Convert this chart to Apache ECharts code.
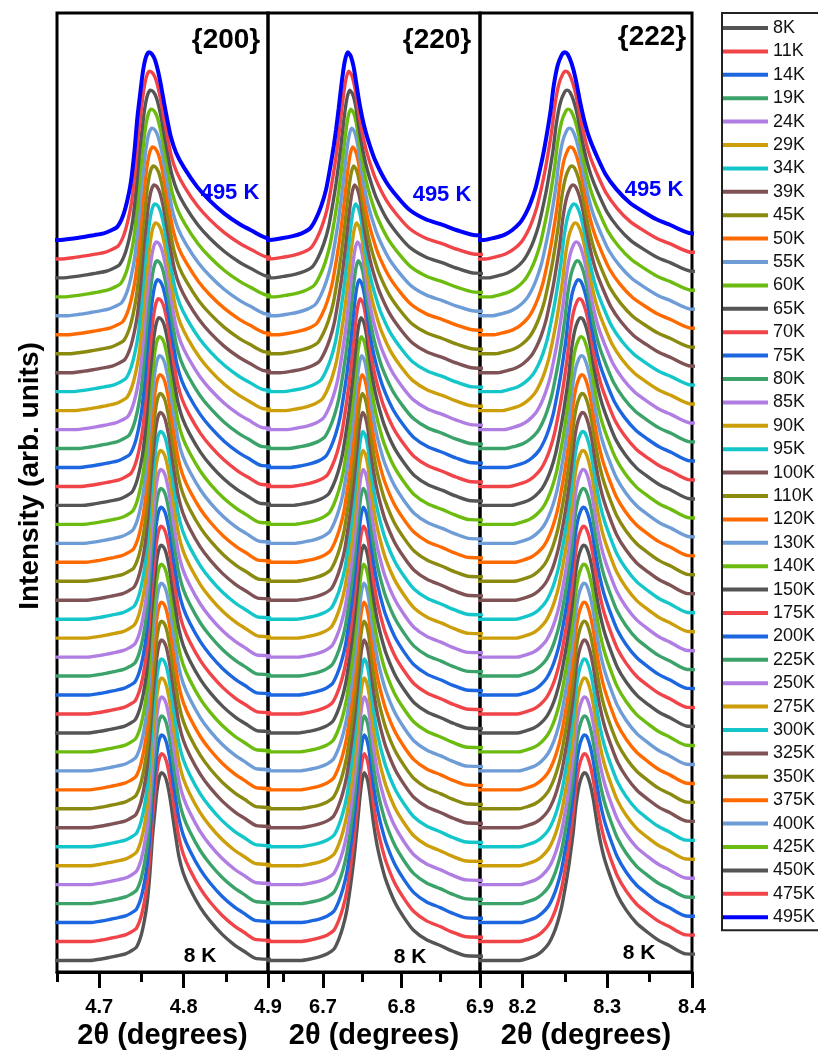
<!DOCTYPE html>
<html>
<head>
<meta charset="utf-8">
<script src="https://cdn.jsdelivr.net/npm/echarts@6/dist/echarts.min.js"></script>
<style>
html, body { margin: 0; padding: 0; background: #fff; }
#main { width: 818px; height: 1050px; }
</style>
</head>
<body>
<div id="main"></div>
<script>
// temperatures, bottom curve first
var temps = [8, 11, 14, 19, 24, 29, 34, 39, 45, 50, 55, 60, 65, 70, 75, 80, 85, 90, 95, 100,
  110, 120, 130, 140, 150, 175, 200, 225, 250, 275, 300, 325, 350, 375, 400, 425, 450, 475, 495];

// peak centres (2theta, deg) read per curve
var peak200 = [4.7740, 4.7740, 4.7740, 4.7740, 4.7740, 4.7739, 4.7739, 4.7738, 4.7738, 4.7737,
  4.7736, 4.7735, 4.7734, 4.7733, 4.7732, 4.7731, 4.7730, 4.7728, 4.7727, 4.7725,
  4.7723, 4.7720, 4.7717, 4.7714, 4.7710, 4.7703, 4.7694, 4.7686, 4.7678, 4.7670,
  4.7661, 4.7652, 4.7643, 4.7635, 4.7626, 4.7617, 4.7608, 4.7598, 4.7590];
var peak220 = [6.7525, 6.7525, 6.7525, 6.7525, 6.7525, 6.7524, 6.7524, 6.7523, 6.7522, 6.7521,
  6.7520, 6.7518, 6.7517, 6.7515, 6.7514, 6.7512, 6.7510, 6.7508, 6.7507, 6.7505,
  6.7501, 6.7497, 6.7492, 6.7488, 6.7484, 6.7473, 6.7461, 6.7449, 6.7438, 6.7426,
  6.7414, 6.7402, 6.7390, 6.7378, 6.7365, 6.7353, 6.7340, 6.7327, 6.7315];
var peak222 = [8.2733, 8.2733, 8.2733, 8.2733, 8.2733, 8.2732, 8.2731, 8.2731, 8.2729, 8.2728,
  8.2727, 8.2725, 8.2724, 8.2722, 8.2720, 8.2718, 8.2717, 8.2714, 8.2712, 8.2710,
  8.2706, 8.2701, 8.2697, 8.2692, 8.2687, 8.2674, 8.2661, 8.2648, 8.2635, 8.2623,
  8.2608, 8.2596, 8.2581, 8.2569, 8.2554, 8.2540, 8.2526, 8.2511, 8.2498];

// relative peak width per curve (495K = 1)
var widths = [0.80, 0.80, 0.80, 0.80, 0.80, 0.80, 0.80, 0.81, 0.81, 0.81, 0.81, 0.81, 0.82,
  0.82, 0.82, 0.82, 0.82, 0.83, 0.83, 0.83, 0.84, 0.84, 0.85, 0.85, 0.86, 0.87, 0.88,
  0.89, 0.90, 0.91, 0.92, 0.93, 0.94, 0.95, 0.96, 0.97, 0.98, 0.99, 1.00];

// peak profiles: offset from centre (deg) and intensity
var prof200Dx = [-0.30, -0.1071, -0.0893, -0.0774, -0.0655, -0.0536, -0.0452, -0.0376, -0.0310,
  -0.0257, -0.0214, -0.0173, -0.0138, -0.0107, -0.0071, -0.0036, 0, 0.0036, 0.0071, 0.0107,
  0.0139, 0.0179, 0.0214, 0.0258, 0.0321, 0.0417, 0.0571, 0.0714, 0.0893, 0.1071, 0.1214,
  0.1405, 0.30];
var prof200Y = [0, 0, 0.08, 0.16, 0.25, 0.35, 0.5, 0.69, 1.25,
  2.08, 3.07, 4.65, 6.44, 7.62, 8.91, 9.65, 9.9, 9.8, 9.5, 8.91,
  8.22, 7.23, 6.4, 5.45, 4.6, 3.8, 2.8, 2.1, 1.39, 0.84, 0.5,
  0.1, 0];
var prof220Dx = [-0.30, -0.1019, -0.0828, -0.0701, -0.0586, -0.0484, -0.0408, -0.0338, -0.0275,
  -0.0217, -0.0178, -0.0148, -0.0115, -0.0076, -0.0038, 0, 0.0038, 0.0076, 0.0115, 0.0149,
  0.0191, 0.0229, 0.0276, 0.0344, 0.0484, 0.0637, 0.0790, 0.0994, 0.1210, 0.1401, 0.1631, 0.30];
var prof220Y = [0, 0, 0.1, 0.2, 0.35, 0.59, 1.09, 1.78, 2.67,
  3.96, 4.95, 5.84, 6.93, 8.32, 9.41, 9.9, 9.7, 9.11, 8.12, 7.23,
  6.34, 5.7, 5.05, 4.25, 3.1, 2.25, 1.58, 1.09, 0.79, 0.5, 0.25, 0.2];
var prof222Dx = [-0.30, -0.0953, -0.0824, -0.0718, -0.0624, -0.0529, -0.0459, -0.0400, -0.0341,
  -0.0294, -0.0247, -0.0200, -0.0165, -0.0129, -0.0082, -0.0035, 0, 0.0035, 0.0082, 0.0129,
  0.0185, 0.0235, 0.0294, 0.0376, 0.0482, 0.0612, 0.0765, 0.0929, 0.1082, 0.1247, 0.1494, 0.30];
var prof222Y = [0, 0, 0.12, 0.26, 0.5, 0.89, 1.39, 1.98, 2.77,
  3.66, 4.65, 5.84, 6.83, 8.12, 9.21, 9.75, 9.9, 9.8, 9.31, 8.51,
  7.23, 6.24, 5.35, 4.46, 3.47, 2.67, 1.98, 1.49, 1.09, 0.79, 0.35, 0.3];

var xMins = [4.65, 6.63, 8.15];
var xMaxs = [4.9, 6.9, 8.4];
var majorTicks = [[4.7, 4.8, 4.9], [6.7, 6.8, 6.9], [8.2, 8.3, 8.4]];
var minorTicks = [[4.65, 4.75, 4.85], [6.65, 6.75, 6.85], [8.15, 8.25, 8.35]];
var panelNames = ['{200}', '{220}', '{222}'];

var palette = ['#555555', '#f04448', '#1c66e0', '#3ba36a', '#b07de3', '#cc9e0a',
  '#14c6c9', '#7f5355', '#8a8a10', '#ff6a00', '#6e9cd6', '#6cbc10'];

var FONT = '"Liberation Sans", Arial, sans-serif';
var peaks = [peak200, peak220, peak222];
var profDx = [prof200Dx, prof220Dx, prof222Dx];
var profY = [prof200Y, prof220Y, prof222Y];
var gridLeft = [57, 268, 480];
var gridWidth = [211, 212, 212];

var chart = echarts.init(document.getElementById('main'));

var grids = [], xAxes = [], yAxes = [], series = [];
for (var p = 0; p < 3; p++) {
  grids.push({ left: gridLeft[p], width: gridWidth[p], top: 13, height: 959,
    outerBoundsMode: 'none', containLabel: false,
    show: true, borderColor: '#000', borderWidth: 3 });
  xAxes.push({
    gridIndex: p, type: 'value', min: xMins[p], max: xMaxs[p], position: 'bottom',
    axisLine: { onZero: false, lineStyle: { color: '#000', width: 3 } },
    axisTick: { customValues: majorTicks[p], length: 16, lineStyle: { color: '#000', width: 3 } },
    axisLabel: { customValues: majorTicks[p], margin: 25, fontSize: 20, fontWeight: 'bold',
      color: '#000', fontFamily: FONT, formatter: function (v) { return v.toFixed(1); } },
    splitLine: { show: false },
    name: '2θ (degrees)', nameLocation: 'middle', nameGap: 41,
    nameTextStyle: { fontSize: 29, fontWeight: 'bold', color: '#000', fontFamily: FONT }
  });
  yAxes.push({ gridIndex: p, type: 'value', min: -0.607, max: 49.97, show: false });
}
for (var p = 0; p < 3; p++) {
  xAxes.push({
    gridIndex: p, type: 'value', min: xMins[p], max: xMaxs[p], position: 'bottom',
    axisLine: { show: false, onZero: false },
    axisTick: { customValues: minorTicks[p], length: 10, lineStyle: { color: '#000', width: 3 } },
    axisLabel: { show: false }, splitLine: { show: false }
  });
}

for (var p = 0; p < 3; p++) {
  for (var i = 0; i < temps.length; i++) {
    var pts = [];
    for (var k = 0; k < profDx[p].length; k++) {
      pts.push([peaks[p][i] + profDx[p][k] * widths[i], i + profY[p][k]]);
    }
    var last = i === temps.length - 1;
    var col = last ? '#0000ff' : palette[i % palette.length];
    series.push({
      type: 'line', name: temps[i] + 'K', xAxisIndex: p, yAxisIndex: p,
      data: pts, showSymbol: false, symbol: 'none', smooth: 0.25,
      color: col, lineStyle: { color: col, width: last ? 4 : 3.4 },
      emphasis: { disabled: true }
    });
  }
}

var graphics = [];
var tagX = [226, 437, 652], tagY = [40, 40, 37];
var hotX = [230, 442, 654], hotY = [193, 195, 190];
var coldX = [200, 410, 639], coldY = [956, 957, 953];
for (var p = 0; p < 3; p++) {
  graphics.push({ type: 'text', x: tagX[p], y: tagY[p], z: 100,
    style: { text: panelNames[p], fill: '#000', font: 'bold 28px ' + FONT, textAlign: 'center', textVerticalAlign: 'middle' } });
  graphics.push({ type: 'text', x: hotX[p], y: hotY[p], z: 100,
    style: { text: '495 K', fill: '#0000ff', font: 'bold 22px ' + FONT, textAlign: 'center', textVerticalAlign: 'middle' } });
  graphics.push({ type: 'text', x: coldX[p], y: coldY[p], z: 100,
    style: { text: '8 K', fill: '#000', font: 'bold 21px ' + FONT, textAlign: 'center', textVerticalAlign: 'middle' } });
}
graphics.push({ type: 'text', x: 30, y: 476, rotation: Math.PI / 2, z: 100,
  style: { text: 'Intensity (arb. units)', fill: '#000', font: 'bold 28px ' + FONT, textAlign: 'center', textVerticalAlign: 'middle' } });

chart.setOption({
  animation: false,
  backgroundColor: '#fff',
  grid: grids,
  xAxis: xAxes,
  yAxis: yAxes,
  legend: {
    orient: 'vertical', left: 722, top: 13,
    padding: [6, 40, 4, 1],
    borderColor: '#222', borderWidth: 2,
    icon: 'rect', itemWidth: 45, itemHeight: 4, itemGap: 5.4,
    data: temps.map(function (t) { return t + 'K'; }),
    textStyle: { fontSize: 18, lineHeight: 16, color: '#111', fontFamily: FONT },
    selectedMode: false
  },
  graphic: graphics,
  series: series
});
</script>
</body>
</html>
